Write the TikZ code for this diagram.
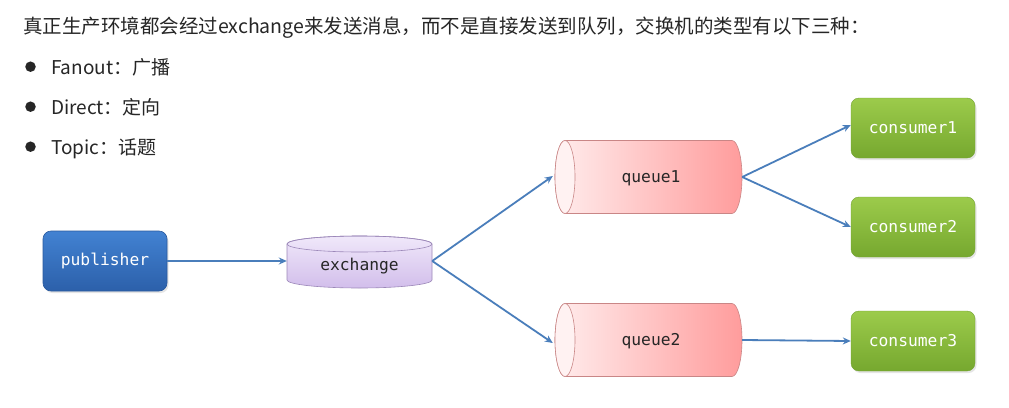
\documentclass[tikz,border=0pt]{standalone}
\usepackage{fontspec}
\setmainfont{Noto Sans CJK SC}
\newfontfamily\nodemono{DejaVu Sans Mono}
\usetikzlibrary{arrows.meta,shadows}
\definecolor{arrowblue}{HTML}{4A7EBB}
\definecolor{pubtop}{HTML}{4282D2}
\definecolor{pubbot}{HTML}{2C60AA}
\definecolor{pubedge}{HTML}{2A5A9E}
\definecolor{extop}{HTML}{F0E8FA}
\definecolor{exbot}{HTML}{D2BEEB}
\definecolor{exedge}{HTML}{9C88B9}
\definecolor{qleft}{HTML}{FFEDED}
\definecolor{qright}{HTML}{FF9C9C}
\definecolor{qedge}{HTML}{C98686}
\definecolor{qface}{HTML}{FFF2F2}
\definecolor{contop}{HTML}{9CCB4B}
\definecolor{conbot}{HTML}{76A82F}
\definecolor{conedge}{HTML}{73A232}
\definecolor{textdark}{HTML}{262626}
\tikzset{
  conn/.style={draw=arrowblue, line width=1.8pt, -{Stealth[length=8pt,width=7pt]}},
  boxnode/.style={rounded corners=8pt, minimum width=124pt, minimum height=60pt,
    font=\nodemono\fontsize{16.3}{18}\selectfont, text=white, inner sep=0pt,
    drop shadow={opacity=0.2, shadow xshift=1.5pt, shadow yshift=-2pt}},
  pubbox/.style={boxnode, top color=pubtop, bottom color=pubbot, draw=pubedge, line width=0.6pt},
  conbox/.style={boxnode, top color=contop, bottom color=conbot, draw=conedge, line width=0.4pt},
  cyltext/.style={font=\nodemono\fontsize{16.3}{18}\selectfont, text=textdark, inner sep=0pt},
  bodytext/.style={font=\fontsize{19}{22}\selectfont, text=textdark, inner sep=0pt, anchor=base west},
  bulletdot/.style={circle, fill=textdark, inner sep=0pt, minimum size=10.5pt},
}
\begin{document}
\begin{tikzpicture}[x=1pt,y=-1pt]
\useasboundingbox[fill=white] (0,0) rectangle (1009,407);

% header text
\node[bodytext, font=\fontsize{19.5}{22}\selectfont] (title) at (23,33.5) {真正生产环境都会经过exchange来发送消息，而不是直接发送到队列，交换机的类型有以下三种：};
\node[bulletdot] (b1) at (30.5,66.7) {};
\node[bulletdot] (b2) at (30.5,106.7) {};
\node[bulletdot] (b3) at (30.5,146.7) {};
\node[bodytext] (t1) at (51,74) {Fanout：广播};
\node[bodytext] (t2) at (51,114) {Direct：定向};
\node[bodytext] (t3) at (51,154) {Topic：话题};

% publisher
\node[pubbox] (pub) at (105,261) {publisher};

% exchange cylinder
\path[shade, top color=extop, bottom color=exbot, draw=exedge, line width=0.6pt]
  (287,244) -- (287,280) arc[start angle=180, end angle=0, x radius=72.5, y radius=8]
  -- (432,244) arc[start angle=0, end angle=-180, x radius=72.5, y radius=8] -- cycle;
\draw[exedge, line width=0.6pt] (359.5,244) ellipse[x radius=72.5, y radius=8];
\node[cyltext, minimum width=145pt, minimum height=52pt] (ex) at (359.5,261) {};
\node[cyltext] (exlabel) at (359.5,266) {exchange};

% queue1
\path[shade, left color=qleft, right color=qright, draw=qedge, line width=0.6pt]
  (565,140.5) -- (732,140.5) arc[start angle=-90, end angle=90, x radius=10, y radius=36.5]
  -- (565,213.5) arc[start angle=90, end angle=270, x radius=10, y radius=36.5] -- cycle;
\draw[qedge, fill=qface, line width=0.6pt] (565,177) ellipse[x radius=10, y radius=36.5];
\node[cyltext, minimum width=187pt, minimum height=73pt] (q1) at (648.5,177) {};
\node[cyltext] (q1label) at (651,178) {queue1};

% queue2
\path[shade, left color=qleft, right color=qright, draw=qedge, line width=0.6pt]
  (565,303.5) -- (732,303.5) arc[start angle=-90, end angle=90, x radius=10, y radius=36.5]
  -- (565,376.5) arc[start angle=90, end angle=270, x radius=10, y radius=36.5] -- cycle;
\draw[qedge, fill=qface, line width=0.6pt] (565,340) ellipse[x radius=10, y radius=36.5];
\node[cyltext, minimum width=187pt, minimum height=73pt] (q2) at (648.5,340) {};
\node[cyltext] (q2label) at (651,341) {queue2};

% consumers
\node[conbox] (c1) at (913,128) {consumer1};
\node[conbox] (c2) at (913,227) {consumer2};
\node[conbox] (c3) at (913,341) {consumer3};

% connectors
\draw[conn] (pub.east) -- (ex.west);
\draw[conn] (ex.east) -- ([xshift=-2pt,yshift=1pt]q1.west);
\draw[conn] (ex.east) -- ([xshift=-2pt,yshift=-3pt]q2.west);
\draw[conn] (q1.east) -- ([yshift=3pt]c1.west);
\draw[conn] (q1.east) -- (c2.west);
\draw[conn] (q2.east) -- (c3.west);
\end{tikzpicture}
\end{document}
